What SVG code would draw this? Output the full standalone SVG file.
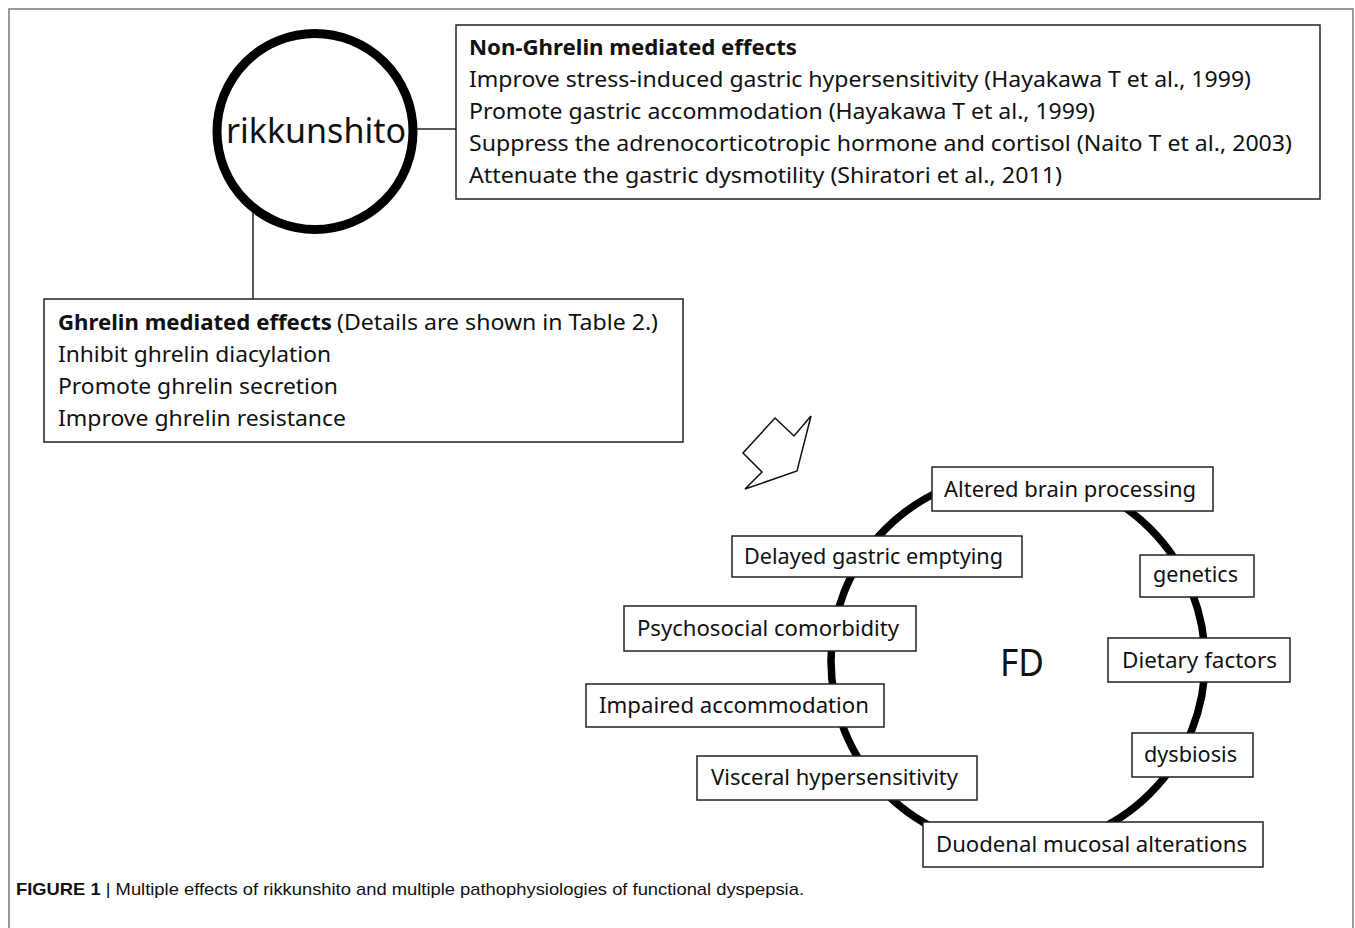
<svg xmlns="http://www.w3.org/2000/svg" width="1355" height="928" viewBox="0 0 1355 928">
<style>
.t{font-family:"Noto Sans","Open Sans",sans-serif;font-size:21px;fill:#111}
.b{font-weight:bold}
.big{font-size:34px}
.fd{font-size:38px}
.box{fill:#fff;stroke:#222;stroke-width:1.5}
.ln{stroke:#222;stroke-width:1.5;fill:none}
.cap{font-family:"Liberation Sans",Arial,sans-serif;font-size:17px;fill:#111}
</style>
<rect width="1355" height="928" fill="#fff"/>
<path d="M9,928 V9 H1353 V928" fill="none" stroke="#777" stroke-width="1.5"/>
<g id="connectors">
<line class="ln" x1="410" y1="129" x2="456" y2="129"/>
<line class="ln" x1="253" y1="205" x2="253" y2="299"/>
<circle cx="1018" cy="661" r="187" fill="none" stroke="#000" stroke-width="7.5"/>
</g>
<g id="rikkunshito">
<circle cx="315" cy="131.5" r="98" fill="#fff" stroke="#000" stroke-width="9"/>
<text class="t big" x="316" y="143" text-anchor="middle" textLength="180" lengthAdjust="spacingAndGlyphs">rikkunshito</text>
</g>
<g id="non-ghrelin">
<rect class="box" x="456" y="25" width="864" height="174"/>
<text class="t b" x="469" y="55" textLength="328" lengthAdjust="spacingAndGlyphs">Non-Ghrelin mediated effects</text>
<text class="t" x="469" y="87" textLength="782" lengthAdjust="spacingAndGlyphs">Improve stress-induced gastric hypersensitivity (Hayakawa T et al., 1999)</text>
<text class="t" x="469" y="119" textLength="626" lengthAdjust="spacingAndGlyphs">Promote gastric accommodation (Hayakawa T et al., 1999)</text>
<text class="t" x="469" y="151" textLength="823" lengthAdjust="spacingAndGlyphs">Suppress the adrenocorticotropic hormone and cortisol (Naito T et al., 2003)</text>
<text class="t" x="469" y="183" textLength="593" lengthAdjust="spacingAndGlyphs">Attenuate the gastric dysmotility (Shiratori et al., 2011)</text>
</g>
<g id="ghrelin">
<rect class="box" x="44" y="299" width="639" height="143"/>
<text class="t b" x="58" y="330" textLength="274" lengthAdjust="spacingAndGlyphs">Ghrelin mediated effects</text>
<text class="t" x="337" y="330" textLength="321" lengthAdjust="spacingAndGlyphs">(Details are shown in Table 2.)</text>
<text class="t" x="58" y="362" textLength="273" lengthAdjust="spacingAndGlyphs">Inhibit ghrelin diacylation</text>
<text class="t" x="58" y="394" textLength="280" lengthAdjust="spacingAndGlyphs">Promote ghrelin secretion</text>
<text class="t" x="58" y="426" textLength="288" lengthAdjust="spacingAndGlyphs">Improve ghrelin resistance</text>
</g>
<g id="arrow">
<polygon points="775,418 794,436 811,416 797,471 745,489 762,472 743,453" fill="#fff" stroke="#111" stroke-width="1.5" stroke-linejoin="miter"/>
</g>
<g id="fd">
<text class="t fd" x="1022" y="676" text-anchor="middle" textLength="44" lengthAdjust="spacingAndGlyphs">FD</text>
</g>
<g id="altered">
<rect class="box" x="932" y="467" width="281" height="44"/>
<text class="t" x="944" y="497" textLength="252" lengthAdjust="spacingAndGlyphs">Altered brain processing</text>
</g>
<g id="delayed">
<rect class="box" x="732" y="536" width="290" height="41"/>
<text class="t" x="744" y="564" textLength="259" lengthAdjust="spacingAndGlyphs">Delayed gastric emptying</text>
</g>
<g id="genetics">
<rect class="box" x="1140" y="555" width="114" height="42"/>
<text class="t" x="1153" y="582" textLength="85" lengthAdjust="spacingAndGlyphs">genetics</text>
</g>
<g id="psychosocial">
<rect class="box" x="624" y="606" width="292" height="45"/>
<text class="t" x="637" y="636" textLength="262" lengthAdjust="spacingAndGlyphs">Psychosocial comorbidity</text>
</g>
<g id="dietary">
<rect class="box" x="1108" y="638" width="182" height="44"/>
<text class="t" x="1122" y="668" textLength="155" lengthAdjust="spacingAndGlyphs">Dietary factors</text>
</g>
<g id="impaired">
<rect class="box" x="586" y="684" width="298" height="43"/>
<text class="t" x="599" y="713" textLength="270" lengthAdjust="spacingAndGlyphs">Impaired accommodation</text>
</g>
<g id="dysbiosis">
<rect class="box" x="1132" y="733" width="121" height="44"/>
<text class="t" x="1144" y="762" textLength="93" lengthAdjust="spacingAndGlyphs">dysbiosis</text>
</g>
<g id="visceral">
<rect class="box" x="697" y="756" width="280" height="44"/>
<text class="t" x="711" y="785" textLength="247" lengthAdjust="spacingAndGlyphs">Visceral hypersensitivity</text>
</g>
<g id="duodenal">
<rect class="box" x="923" y="822" width="340" height="45"/>
<text class="t" x="936" y="852" textLength="311" lengthAdjust="spacingAndGlyphs">Duodenal mucosal alterations</text>
</g>
<g id="caption">
<text class="cap" x="16" y="895" textLength="788" lengthAdjust="spacingAndGlyphs"><tspan font-weight="bold">FIGURE 1</tspan> | Multiple effects of rikkunshito and multiple pathophysiologies of functional dyspepsia.</text>
</g>
</svg>
